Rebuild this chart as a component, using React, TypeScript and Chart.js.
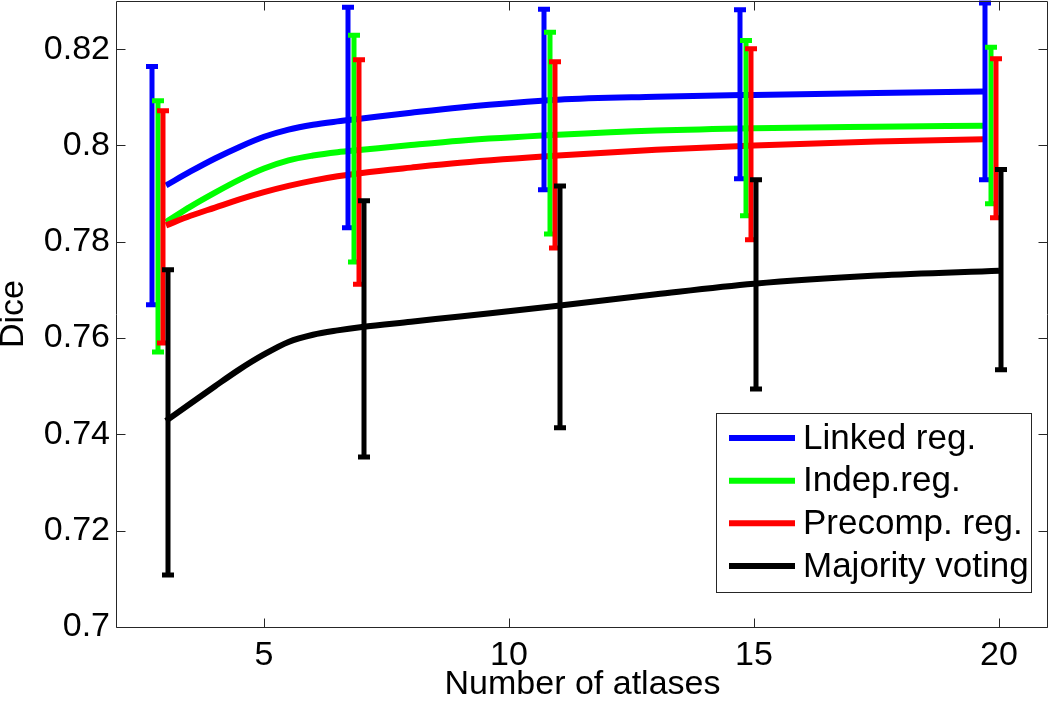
import React, { useEffect, useRef } from "react";
import { Chart, registerables } from "chart.js";

Chart.register(...registerables);

// ---------- data ----------
const seriesNames = ["Linked reg.", "Indep.reg.", "Precomp. reg.", "Majority voting"];

const curveAtlases = [3, 3.5, 4, 4.5, 5, 5.5, 6, 6.5, 7, 8, 9, 11, 13, 15, 17.5, 19.7];
const linkedCurve = [0.7917, 0.7946, 0.7973, 0.7997, 0.8018, 0.8033, 0.8043, 0.805, 0.8056, 0.8068, 0.8079, 0.8095, 0.8101, 0.8105, 0.8109, 0.8112];
const indepCurve = [0.7841, 0.7873, 0.7902, 0.7929, 0.7952, 0.7969, 0.7979, 0.7986, 0.7991, 0.8001, 0.801, 0.8022, 0.8031, 0.8036, 0.8039, 0.8041];
const precompCurve = [0.7834, 0.7854, 0.7871, 0.7888, 0.7903, 0.7916, 0.7927, 0.7936, 0.7943, 0.7954, 0.7964, 0.7979, 0.7991, 0.8, 0.8008, 0.8013];

const majorityAtlases = [3, 3.5, 4, 4.5, 5, 5.5, 6, 6.5, 7, 8, 9, 11, 13, 15, 17.5, 20];
const majorityCurve = [0.7428, 0.7464, 0.75, 0.7535, 0.7566, 0.7592, 0.7607, 0.7616, 0.7623, 0.7634, 0.7645, 0.7667, 0.7691, 0.7713, 0.773, 0.774];

const errAtlases = [3, 7, 11, 15, 20];
const errOffsets = [-0.28, -0.17, -0.07, 0.04];
const linkedLow = [0.7669, 0.7829, 0.7908, 0.7931, 0.7929];
const linkedHigh = [0.8164, 0.8287, 0.8283, 0.8282, 0.8296];
const indepLow = [0.7571, 0.7758, 0.7816, 0.7854, 0.7879];
const indepHigh = [0.8093, 0.8229, 0.8235, 0.8218, 0.8204];
const precompLow = [0.759, 0.7712, 0.7787, 0.7804, 0.785];
const precompHigh = [0.8072, 0.8178, 0.8174, 0.8201, 0.818];
const majorityLow = [0.7108, 0.7353, 0.7414, 0.7494, 0.7534];
const majorityHigh = [0.7742, 0.7885, 0.7916, 0.7929, 0.795];

const xTickValues = [5, 10, 15, 20];
const yTickValues = [0.7, 0.72, 0.74, 0.76, 0.78, 0.8, 0.82];
const xMin = 2;
const xMax = 21;
const yMin = 0.7;
const yMax = 0.83;
const xTitle = "Number of atlases";
const yTitle = "Dice";

// ---------- styles ----------
const colors = ["#0000ff", "#00ff00", "#ff0000", "#000000"];
const FONT = "'Liberation Sans', Arial, Helvetica, sans-serif";

const curves = [
  { xs: curveAtlases, ys: linkedCurve },
  { xs: curveAtlases, ys: indepCurve },
  { xs: curveAtlases, ys: precompCurve },
  { xs: majorityAtlases, ys: majorityCurve },
];
const errs = [
  { low: linkedLow, high: linkedHigh },
  { low: indepLow, high: indepHigh },
  { low: precompLow, high: precompHigh },
  { low: majorityLow, high: majorityHigh },
];

const overlayPlugin = {
  id: "matlabOverlay",
  afterDatasetsDraw(chart: any) {
    const ctx: CanvasRenderingContext2D = chart.ctx;
    const xs = chart.scales.x;
    const ys = chart.scales.y;
    const area = chart.chartArea;

    // error bars
    errs.forEach((s, si) => {
      ctx.save();
      ctx.strokeStyle = colors[si];
      ctx.lineWidth = 5;
      ctx.lineCap = "butt";
      errAtlases.forEach((a, i) => {
        const px = Math.round(xs.getPixelForValue(a + errOffsets[si]));
        const pl = ys.getPixelForValue(s.low[i]);
        const ph = ys.getPixelForValue(s.high[i]);
        ctx.beginPath();
        ctx.moveTo(px, ph);
        ctx.lineTo(px, pl);
        ctx.moveTo(px - 6, ph);
        ctx.lineTo(px + 6, ph);
        ctx.moveTo(px - 6, pl);
        ctx.lineTo(px + 6, pl);
        ctx.stroke();
      });
      ctx.restore();
    });

    // axes box with inward ticks (mirrored)
    ctx.save();
    ctx.strokeStyle = "#262626";
    ctx.lineWidth = 1;
    const L = Math.round(area.left) - 0.5;
    const R = Math.round(area.right) - 0.5;
    const T = Math.round(area.top) + 0.5;
    const B = Math.round(area.bottom) + 0.5;
    ctx.beginPath();
    ctx.rect(L, T, R - L, B - T);
    const tl = 9;
    xs.ticks.forEach((t: any) => {
      const px = Math.round(xs.getPixelForValue(t.value)) + 0.5;
      ctx.moveTo(px, B);
      ctx.lineTo(px, B - tl);
      ctx.moveTo(px, T);
      ctx.lineTo(px, T + tl);
    });
    ys.ticks.forEach((t: any) => {
      const py = Math.round(ys.getPixelForValue(t.value)) + 0.5;
      ctx.moveTo(L, py);
      ctx.lineTo(L + tl, py);
      ctx.moveTo(R, py);
      ctx.lineTo(R - tl, py);
    });
    ctx.stroke();
    ctx.restore();

    // legend (inside plot, lower right)
    ctx.save();
    const boxRight = Math.round(area.right) - 17;
    const boxBottom = Math.round(area.bottom) - 35;
    const boxW = 315;
    const boxH = 179;
    const bx = boxRight - boxW;
    const by = boxBottom - boxH;
    ctx.fillStyle = "#ffffff";
    ctx.fillRect(bx, by, boxW, boxH);
    ctx.strokeStyle = "#262626";
    ctx.lineWidth = 1;
    ctx.strokeRect(bx + 0.5, by + 0.5, boxW, boxH);
    ctx.font = `35px ${FONT}`;
    ctx.textBaseline = "middle";
    ctx.textAlign = "left";
    seriesNames.forEach((name, i) => {
      const cy = by + 25 + i * 42.67;
      ctx.strokeStyle = colors[i];
      ctx.lineWidth = 6;
      ctx.beginPath();
      ctx.moveTo(bx + 13, cy);
      ctx.lineTo(bx + 79, cy);
      ctx.stroke();
      ctx.fillStyle = "#000000";
      ctx.fillText(name, bx + 87, cy + 1);
    });
    ctx.restore();
  },
};

export default function App() {
  const canvasRef = useRef<HTMLCanvasElement>(null);

  useEffect(() => {
    document.body.style.margin = "0";
    const canvas = canvasRef.current;
    if (!canvas) return;

    const datasets = curves.map((c, i) => ({
      label: seriesNames[i],
      data: c.xs.map((x, j) => ({ x, y: c.ys[j] })),
      borderColor: colors[i],
      backgroundColor: colors[i],
      borderWidth: 6,
      pointRadius: 0,
      pointHoverRadius: 0,
      fill: false,
      cubicInterpolationMode: "monotone" as const,
      borderCapStyle: "butt" as const,
      borderJoinStyle: "round" as const,
      order: 4 - i,
    }));

    const chart = new Chart(canvas, {
      type: "line",
      data: { datasets },
      options: {
        animation: false,
        responsive: false,
        devicePixelRatio: 1,
        events: [],
        layout: { padding: { left: 0, top: 1, right: 2, bottom: 0 } },
        plugins: {
          legend: { display: false },
          tooltip: { enabled: false },
          title: { display: false },
        },
        scales: {
          x: {
            type: "linear",
            min: xMin,
            max: xMax,
            grid: { display: false, drawTicks: false },
            border: { display: false },
            ticks: {
              color: "#000",
              font: { family: FONT, size: 34, lineHeight: 1.2 },
              padding: 8,
              maxRotation: 0,
              callback: (v: any) => String(Number(v)),
            },
            afterBuildTicks: (scale: any) => {
              scale.ticks = xTickValues.map((value) => ({ value }));
            },
            afterFit: (scale: any) => {
              scale.height = 76;
              scale.paddingLeft = 0;
              scale.paddingRight = 0;
            },
            title: {
              display: true,
              text: xTitle,
              color: "#000",
              font: { family: FONT, size: 34, lineHeight: 1 },
              padding: { top: 0, bottom: 1 },
            },
          },
          y: {
            type: "linear",
            min: yMin,
            max: yMax,
            grid: { display: false, drawTicks: false },
            border: { display: false },
            ticks: {
              color: "#000",
              font: { family: FONT, size: 34, lineHeight: 1.2 },
              padding: 7,
              callback: (v: any) => String(Number(Number(v).toFixed(2))),
            },
            afterBuildTicks: (scale: any) => {
              scale.ticks = yTickValues.map((value) => ({ value }));
            },
            afterFit: (scale: any) => {
              scale.width = 117;
              scale.paddingTop = 0;
              scale.paddingBottom = 0;
            },
            title: {
              display: true,
              text: yTitle,
              color: "#000",
              font: { family: FONT, size: 34, lineHeight: 0.8 },
              padding: { top: 0, bottom: 0 },
            },
          },
        },
      },
      plugins: [overlayPlugin],
    });

    return () => chart.destroy();
  }, []);

  return (
    <div
      style={{
        position: "fixed",
        left: 0,
        top: 0,
        width: 1050,
        height: 703,
        background: "#ffffff",
      }}
    >
      <canvas
        ref={canvasRef}
        width={1050}
        height={703}
        style={{ width: 1050, height: 703, display: "block" }}
      />
    </div>
  );
}
